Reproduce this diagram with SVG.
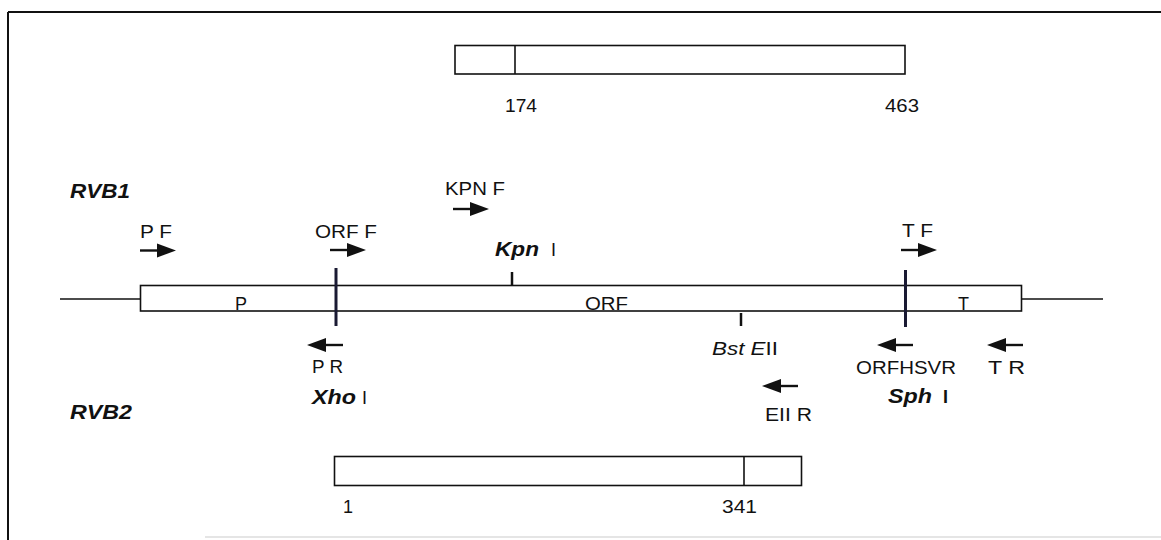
<svg xmlns="http://www.w3.org/2000/svg" xmlns:xlink="http://www.w3.org/1999/xlink" width="1161" height="540" viewBox="0 0 1161 540">
  <style>
    text { font-family: "Liberation Sans", Arial, sans-serif; fill: #111; font-size: 18px; }
    .bi { font-weight: bold; font-style: italic; font-size: 19.5px; }
    .it { font-style: italic; }
    .box { fill: #fff; stroke: #111; stroke-width: 1.6; }
    .ln { stroke: #111; stroke-width: 1.6; fill: none; }
    .div { stroke: #1a1a33; stroke-width: 3; }
    .tick { stroke: #111; stroke-width: 2.5; }
  </style>
  <defs>
    <g id="arr">
      <line x1="0" y1="0" x2="19" y2="0" stroke="#111" stroke-width="2.4"/>
      <polygon points="17,-7 36,0 17,7" fill="#111"/>
    </g>
  </defs>
  <rect width="1161" height="540" fill="#fff"/>
  <g id="frame">
    <line x1="8" y1="12" x2="1161" y2="12" stroke="#111" stroke-width="2"/>
    <line x1="8" y1="12" x2="8" y2="540" stroke="#111" stroke-width="2"/>
    <line x1="205" y1="537" x2="1161" y2="537" stroke="#ddd" stroke-width="1.5"/>
  </g>

  <g id="top-construct">
    <rect class="box" x="455" y="45.5" width="450" height="28.5"/>
    <line class="ln" x1="515" y1="45.5" x2="515" y2="74"/>
    <text x="505" y="112" textLength="32" lengthAdjust="spacingAndGlyphs">174</text>
    <text x="885" y="112" textLength="34" lengthAdjust="spacingAndGlyphs">463</text>
  </g>

  <g id="rvb1-label">
    <text class="bi" x="70" y="198" font-size="20" textLength="60" lengthAdjust="spacingAndGlyphs">RVB1</text>
  </g>

  <g id="gene">
    <line class="ln" x1="60" y1="299" x2="140" y2="299"/>
    <line class="ln" x1="1021" y1="299" x2="1103" y2="299"/>
    <rect class="box" x="140.5" y="285.5" width="881" height="25.5"/>
    <line class="div" x1="336" y1="268" x2="336" y2="326"/>
    <line class="div" x1="905.5" y1="270" x2="905.5" y2="327"/>
    <text x="241" y="310" text-anchor="middle">P</text>
    <text x="585" y="310" textLength="43" lengthAdjust="spacingAndGlyphs">ORF</text>
    <text x="963.5" y="310" text-anchor="middle">T</text>
  </g>

  <g id="kpn-site">
    <line class="tick" x1="512" y1="272" x2="512" y2="286"/>
    <text x="495" y="256"><tspan class="bi" textLength="44" lengthAdjust="spacingAndGlyphs">Kpn</tspan></text>
    <text x="551" y="256">I</text>
  </g>

  <g id="bste-site">
    <line class="tick" x1="741" y1="313" x2="741" y2="326"/>
    <text x="712" y="355" textLength="66" lengthAdjust="spacingAndGlyphs"><tspan class="it">Bst E</tspan>II</text>
  </g>

  <g id="xho-site">
    <text class="bi" x="312" y="404" textLength="44" lengthAdjust="spacingAndGlyphs">Xho</text>
    <text x="362" y="404">I</text>
  </g>

  <g id="sph-site">
    <text class="bi" x="888" y="403" textLength="44" lengthAdjust="spacingAndGlyphs">Sph</text>
    <text x="943" y="403" font-weight="bold">I</text>
  </g>

  <g id="primer-PF">
    <text x="140" y="238" textLength="32" lengthAdjust="spacingAndGlyphs">P F</text>
    <use xlink:href="#arr" transform="translate(140,250.5)"/>
  </g>
  <g id="primer-ORFF">
    <text x="315" y="238" textLength="62" lengthAdjust="spacingAndGlyphs">ORF F</text>
    <use xlink:href="#arr" transform="translate(330,250)"/>
  </g>
  <g id="primer-KPNF">
    <text x="445" y="195" textLength="60" lengthAdjust="spacingAndGlyphs">KPN F</text>
    <use xlink:href="#arr" transform="translate(453,209)"/>
  </g>
  <g id="primer-TF">
    <text x="902" y="237" textLength="31" lengthAdjust="spacingAndGlyphs">T F</text>
    <use xlink:href="#arr" transform="translate(901,250)"/>
  </g>
  <g id="primer-PR">
    <use xlink:href="#arr" transform="translate(343,345) scale(-1,1)"/>
    <text x="312" y="373" textLength="31" lengthAdjust="spacingAndGlyphs">P R</text>
  </g>
  <g id="primer-ORFHSVR">
    <use xlink:href="#arr" transform="translate(913,345) scale(-1,1)"/>
    <text x="856" y="374" textLength="100" lengthAdjust="spacingAndGlyphs">ORFHSVR</text>
  </g>
  <g id="primer-TR">
    <use xlink:href="#arr" transform="translate(1023,345) scale(-1,1)"/>
    <text x="988" y="374" textLength="37" lengthAdjust="spacingAndGlyphs">T R</text>
  </g>
  <g id="primer-EIIR">
    <use xlink:href="#arr" transform="translate(798,386) scale(-1,1)"/>
    <text x="765" y="421" textLength="47" lengthAdjust="spacingAndGlyphs">EII R</text>
  </g>

  <g id="rvb2-label">
    <text class="bi" x="70" y="419" font-size="20" textLength="62" lengthAdjust="spacingAndGlyphs">RVB2</text>
  </g>

  <g id="bottom-construct">
    <rect class="box" x="334.5" y="456.5" width="467" height="29"/>
    <line class="ln" x1="744" y1="456.5" x2="744" y2="485.5"/>
    <text x="343" y="513">1</text>
    <text x="722" y="513" textLength="35" lengthAdjust="spacingAndGlyphs">341</text>
  </g>
</svg>
